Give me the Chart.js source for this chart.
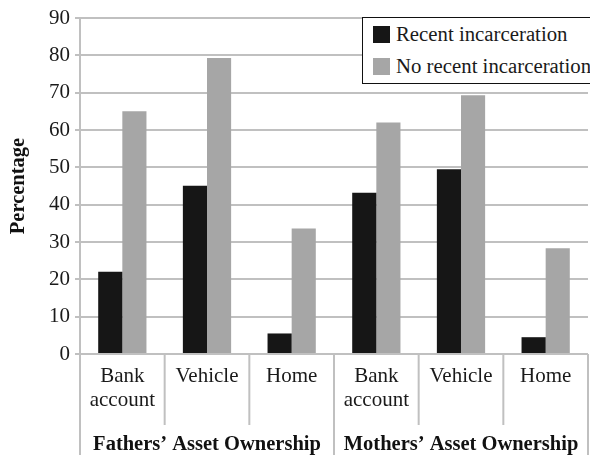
<!DOCTYPE html>
<html>
<head>
<meta charset="utf-8">
<script src="https://cdn.jsdelivr.net/npm/chart.js@4"></script>
<style>
  html, body { margin: 0; padding: 0; background: #fff; overflow: hidden; }
  #wrap { position: relative; width: 590px; height: 455px; overflow: hidden; }
  #legend {
    position: absolute; left: 362px; top: 17px; width: 260px; height: 65px;
    background: #fff; border: 1.5px solid #111;
    font-family: "Liberation Serif", serif; font-size: 20.8px; color: #1a1a1a;
  }
  .item { position: absolute; left: 10px; height: 24px; line-height: 24px; white-space: nowrap; }
  .item .sw { display: inline-block; width: 17px; height: 17px; vertical-align: -2px; margin-right: 6px; }
</style>
</head>
<body>
<div id="wrap">
  <canvas id="chart" width="590" height="455"></canvas>
  <div id="legend"></div>
</div>
<script>
// --- data ---
const categories = [['Bank', 'account'], 'Vehicle', 'Home', ['Bank', 'account'], 'Vehicle', 'Home'];
const groups = ['Fathers\u2019 Asset Ownership', 'Mothers\u2019 Asset Ownership'];
const groupSize = 3;
const seriesNames = ['Recent incarceration', 'No recent incarceration'];
const recentValues = [22, 45.1, 5.5, 43.2, 49.5, 4.5];
const noRecentValues = [65, 79.3, 33.6, 62, 69.3, 28.3];
const yTicks = [0, 10, 20, 30, 40, 50, 60, 70, 80, 90];

const colors = ['#161616', '#a6a6a6'];
const lineGray = '#c0c0c0';
const serif = '"Liberation Serif", serif';

Chart.defaults.font.family = serif;
Chart.defaults.font.size = 21;
Chart.defaults.color = '#1a1a1a';

// legend (html, sits over the plot like the original)
const legendEl = document.getElementById('legend');
seriesNames.forEach((name, i) => {
  legendEl.innerHTML += `
    <div class="item" style="top:${4 + i * 32}px">
      <span class="sw" style="background:${colors[i]}"></span>${name}
    </div>`;
});

// dividers + group titles under the x axis
const groupAxis = {
  id: 'groupAxis',
  afterDraw(chart) {
    const { ctx, chartArea, scales: { x } } = chart;
    const half = (x.getPixelForValue(1) - x.getPixelForValue(0)) / 2;
    ctx.save();
    ctx.strokeStyle = lineGray;
    ctx.lineWidth = 2;
    for (let i = 0; i <= categories.length; i++) {
      const px = i < categories.length ? x.getPixelForValue(i) - half : x.getPixelForValue(i - 1) + half;
      const isGroupEdge = i % groupSize === 0;
      ctx.beginPath();
      ctx.moveTo(px, chartArea.bottom);
      ctx.lineTo(px, isGroupEdge ? chart.height : chartArea.bottom + 71);
      ctx.stroke();
    }
    ctx.fillStyle = '#111';
    ctx.font = `bold 20.5px ${serif}`;
    ctx.textAlign = 'center';
    ctx.textBaseline = 'middle';
    groups.forEach((g, gi) => {
      const a = x.getPixelForValue(gi * groupSize) - half;
      const b = x.getPixelForValue(gi * groupSize + groupSize - 1) + half;
      ctx.fillText(g, (a + b) / 2, 445);
    });
    ctx.restore();
  }
};

new Chart(document.getElementById('chart').getContext('2d'), {
  type: 'bar',
  data: {
    labels: categories,
    datasets: [
      { label: seriesNames[0], data: recentValues, backgroundColor: colors[0] },
      { label: seriesNames[1], data: noRecentValues, backgroundColor: colors[1] }
    ]
  },
  options: {
    responsive: false,
    animation: false,
    devicePixelRatio: 1,
    layout: { padding: { top: 18, right: 2, bottom: 41, left: 0 } },
    datasets: { bar: { categoryPercentage: 0.57, barPercentage: 1.0 } },
    plugins: { legend: { display: false }, tooltip: { enabled: false } },
    scales: {
      x: {
        grid: { display: false },
        border: { display: false },
        ticks: { font: { size: 21, lineHeight: '24px' }, padding: 2, maxRotation: 0, autoSkip: false }
      },
      y: {
        min: 0,
        max: 90,
        afterBuildTicks: (s) => { s.ticks = yTicks.map(v => ({ value: v })); },
        afterFit: (s) => { s.width = 80; },
        grid: { color: lineGray, lineWidth: 2, tickLength: 5 },
        border: { color: lineGray, width: 2 },
        ticks: { font: { size: 21 }, padding: 5 },
        title: {
          display: true,
          text: 'Percentage',
          font: { size: 20.5, weight: 'bold' },
          color: '#111',
          padding: { top: 6, bottom: 0 }
        }
      }
    }
  },
  plugins: [groupAxis]
});
</script>
</body>
</html>
